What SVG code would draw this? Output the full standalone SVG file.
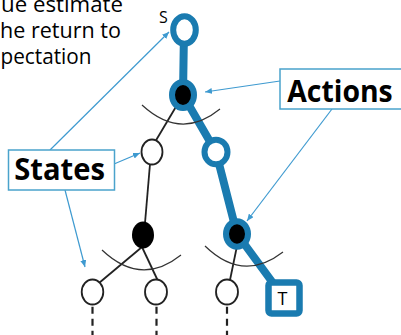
<svg xmlns="http://www.w3.org/2000/svg" width="401" height="335" viewBox="0 0 401 335">
<style>
.txt{font-family:"Open Sans","Liberation Sans",sans-serif;fill:#000}
.lbl{font-family:"Open Sans","Liberation Sans",sans-serif;font-weight:bold;font-size:31px;fill:#000}
.box{fill:#fff;stroke:#4aa3cc;stroke-width:1.5}
.callout{stroke:#3e9ad0;stroke-width:1.2;fill:none}
.path{stroke:#1a7bb0;stroke-width:8;fill:none;stroke-linejoin:round}
.edge{stroke:#222;stroke-width:1.8;fill:none}
.arc{stroke:#333;stroke-width:1.2;fill:none}
.dash{stroke:#222;stroke-width:2.2;stroke-dasharray:7 5;fill:none}
.bnode{stroke:#1a7bb0;stroke-width:6}
.state{fill:#fff;stroke:#222;stroke-width:1.8}
</style>
<defs>
<marker id="ah" markerUnits="userSpaceOnUse" markerWidth="7" markerHeight="6" refX="7" refY="3" orient="auto">
<path d="M0,0 L7,3 L0,6 z" fill="#3e9ad0"/>
</marker>
</defs>
<g id="caption">
<text class="txt" font-size="21" x="1" y="11.5" textLength="122" lengthAdjust="spacingAndGlyphs">ue estimate</text>
<text class="txt" font-size="21" x="0" y="37.5" textLength="121" lengthAdjust="spacingAndGlyphs">he return to</text>
<text class="txt" font-size="21" x="0.5" y="64" textLength="91" lengthAdjust="spacingAndGlyphs">pectation</text>
</g>
<g id="connectors">
<path class="path" d="M184,30 L183,95 L216,152 L237,234 L284,298"/>
<line class="edge" x1="180" y1="100" x2="155" y2="142"/>
<line class="edge" x1="150" y1="164" x2="145" y2="223"/>
<line class="edge" x1="142" y1="247" x2="99" y2="283"/>
<line class="edge" x1="142" y1="247" x2="158" y2="281"/>
<line class="edge" x1="237" y1="246" x2="230" y2="280"/>
<path class="arc" d="M142,105 Q181,141 220,109"/>
<path class="arc" d="M102,250 Q141,287 181,255"/>
<path class="arc" d="M205,246 Q243,283 283,252"/>
<line class="dash" x1="92.5" y1="306.7" x2="92.5" y2="335"/>
<line class="dash" x1="156.5" y1="306.7" x2="156.5" y2="335"/>
<line class="dash" x1="227" y1="306.7" x2="227" y2="335"/>
<line class="callout" x1="280" y1="81" x2="205" y2="92" marker-end="url(#ah)"/>
<line class="callout" x1="332" y1="109" x2="247" y2="221" marker-end="url(#ah)"/>
<line class="callout" x1="50" y1="150" x2="169" y2="32" marker-end="url(#ah)"/>
<line class="callout" x1="114" y1="164" x2="140" y2="153" marker-end="url(#ah)"/>
<line class="callout" x1="65" y1="190" x2="85" y2="267" marker-end="url(#ah)"/>
</g>
<g id="node-s">
<ellipse class="bnode" cx="184.5" cy="30" rx="11.3" ry="13.8" fill="#fff"/>
<text class="txt" font-size="16" x="159" y="22.5">S</text>
</g>
<g id="node-a1"><ellipse class="bnode" cx="183" cy="95" rx="11" ry="13" fill="#000"/></g>
<g id="node-s-left"><ellipse class="state" cx="152" cy="152" rx="10.5" ry="12.5"/></g>
<g id="node-s-right"><ellipse class="bnode" cx="216" cy="152" rx="11.5" ry="12.3" fill="#fff"/></g>
<g id="node-a-left"><ellipse cx="143" cy="235" rx="11" ry="13.5" fill="#000"/></g>
<g id="node-a-right"><ellipse class="bnode" cx="237" cy="234" rx="11" ry="12.7" fill="#000"/></g>
<g id="node-s-ll"><ellipse class="state" cx="92.5" cy="292" rx="10.8" ry="12.5"/></g>
<g id="node-s-lr"><ellipse class="state" cx="156" cy="292" rx="11" ry="12.5"/></g>
<g id="node-s-rl"><ellipse class="state" cx="227" cy="292" rx="11" ry="12.5"/></g>
<g id="node-t">
<rect x="268.5" y="282.5" width="31" height="31" rx="3" fill="#fff" stroke="#1a7bb0" stroke-width="6.5"/>
<text class="txt" font-size="18" x="282.5" y="304.5" text-anchor="middle">T</text>
</g>
<g id="label-states">
<rect class="box" x="8.5" y="150" width="106" height="40"/>
<text class="lbl" x="14.3" y="180" textLength="90.7" lengthAdjust="spacingAndGlyphs">States</text>
</g>
<g id="label-actions">
<rect class="box" x="280" y="69" width="130" height="40"/>
<text class="lbl" x="287.3" y="101.7" textLength="105.4" lengthAdjust="spacingAndGlyphs">Actions</text>
</g>
</svg>
